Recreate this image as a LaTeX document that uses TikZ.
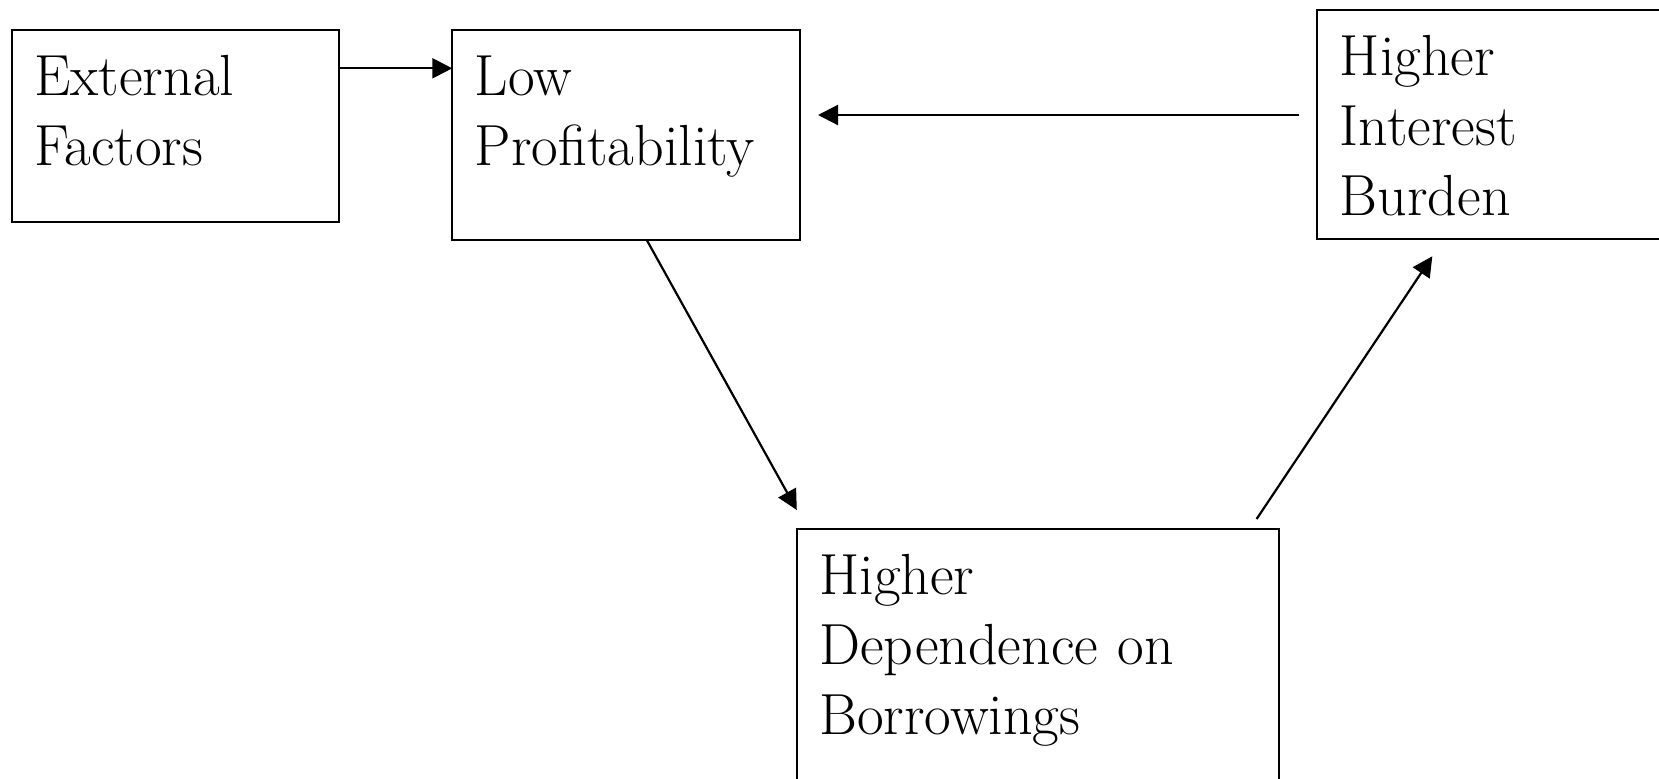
\documentclass[tikz,border=0pt]{standalone}
\usepackage{tikz}
\usetikzlibrary{positioning,arrows.meta}

\begin{document}
\begin{tikzpicture}[x=0.5pt,y=-0.5pt,line width=1.1pt,>={Triangle[length=10pt,width=10pt]},
  box/.style={draw,anchor=north west,align=left,outer sep=0pt,inner xsep=11.25pt,inner ysep=13.5pt,
    text height=19pt,font=\fontsize{29}{35}\selectfont}]
\path[use as bounding box,fill=white] (0,0) rectangle (1659,778);
\node[box,text width=141.3pt,text depth=49.85pt]  (ext) at (11.7,30) {External\\Factors};
\node[box,text width=151.35pt,text depth=59pt]    (low) [right=56.5pt of ext.north east,anchor=north west] {Low\\Profitability};
\node[box,text width=158.85pt,text depth=68.65pt] (int) [above right=10pt and 258.65pt of low.north east,anchor=north west] {Higher\\Interest\\Burden};
\node[box,text width=218.4pt,text depth=89.5pt]   (dep) [below left=144.5pt and 1.6pt of low.south east,anchor=north west] {Higher\\Dependence on\\Borrowings};
\coordinate (back) at ([yshift=-52.5pt]int.north west);
\path[->] ([yshift=-19.15pt]ext.north east) edge ([yshift=-19.15pt]low.north west)
      (back) edge [shorten <=9pt,shorten >=9pt] (back -| low.east)
      ([xshift=10.3pt]low.south) edge ([yshift=9.5pt]dep.north west)
      ([xshift=-11pt,yshift=5pt]dep.north east) edge ([xshift=57.5pt,yshift=-8.5pt]int.south west);
\end{tikzpicture}
\end{document}
